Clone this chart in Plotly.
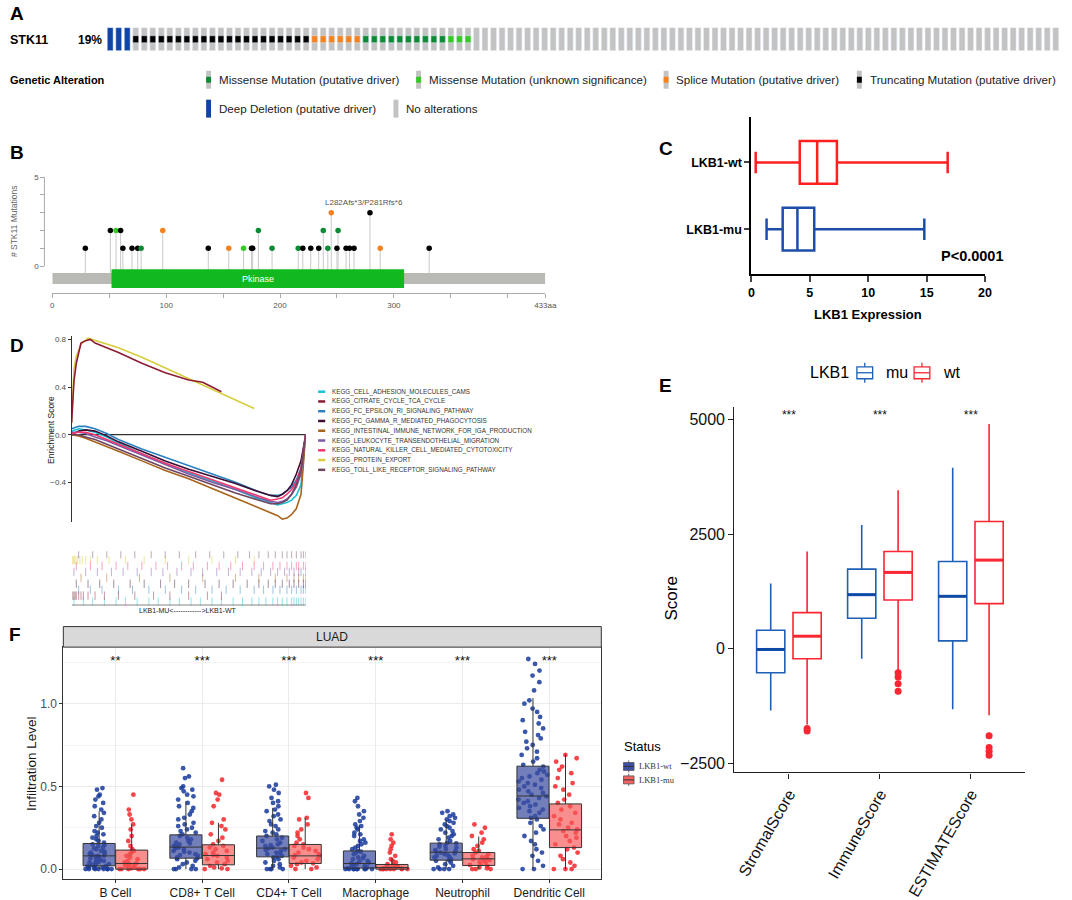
import plotly.graph_objects as go

W, H = 1072, 900
FONT = "Arial, Liberation Sans, sans-serif"


def px(x):
    return x / W


def py(y):
    return 1 - y / H


# ---------------- A: oncoprint ----------------
onco_samples = (["Deep Deletion"] * 3 + ["Truncating"] * 21 + ["Splice"] * 6
                + ["Missense driver"] * 10 + ["Missense VUS"] * 3 + ["None"] * 69)
onco_colors = {
    "Deep Deletion": "#1045a5",
    "Truncating": "#000000",
    "Splice": "#f5821f",
    "Missense driver": "#0c8a35",
    "Missense VUS": "#35c925",
}
GRAY = "#c3c3c3"

# ---------------- B: lollipop ----------------
b_pos = [29, 51, 56, 60, 62, 70, 75, 78, 97, 137, 155, 168, 175, 176, 181, 193, 216,
         220, 227, 234, 238, 242, 245, 250, 251, 258, 261, 265, 279, 288, 331]
b_cnt = [1, 2, 2, 2, 1, 1, 1, 1, 2, 1, 1, 1, 1, 1, 2, 1, 1,
         1, 1, 1, 2, 1, 3, 1, 2, 1, 1, 1, 3, 1, 1]
b_type = ["Truncating", "Truncating", "Missense VUS", "Truncating", "Truncating", "Truncating",
          "Truncating", "Missense driver", "Splice", "Truncating", "Splice", "Missense VUS",
          "Truncating", "Truncating", "Missense driver", "Missense driver", "Missense driver",
          "Truncating", "Truncating", "Truncating", "Missense driver", "Missense driver", "Splice",
          "Truncating", "Missense driver", "Truncating", "Truncating", "Truncating", "Truncating",
          "Splice", "Truncating"]
protein_len = 433
domain_start, domain_end = 52, 309

# ---------------- C: LKB1 expression ----------------
c_groups = ["LKB1-mu", "LKB1-wt"]
c_min = [1.3, 0.37]
c_q1 = [2.68, 4.14]
c_med = [3.94, 5.63]
c_q3 = [5.38, 7.32]
c_max = [14.8, 16.8]
c_colors = ["#1c4ea8", "#ff1f1f"]

# ---------------- D: GSEA ----------------
gsea_names = ["KEGG_CELL_ADHESION_MOLECULES_CAMS", "KEGG_CITRATE_CYCLE_TCA_CYCLE",
              "KEGG_FC_EPSILON_RI_SIGNALING_PATHWAY", "KEGG_FC_GAMMA_R_MEDIATED_PHAGOCYTOSIS",
              "KEGG_INTESTINAL_IMMUNE_NETWORK_FOR_IGA_PRODUCTION",
              "KEGG_LEUKOCYTE_TRANSENDOTHELIAL_MIGRATION",
              "KEGG_NATURAL_KILLER_CELL_MEDIATED_CYTOTOXICITY", "KEGG_PROTEIN_EXPORT",
              "KEGG_TOLL_LIKE_RECEPTOR_SIGNALING_PATHWAY"]
gsea_colors = ["#19c3d4", "#8c1c35", "#2a80c0", "#3d0d33", "#a8631c",
               "#7d5aa6", "#f2386e", "#d8cd3c", "#6e4660"]
neg_x = [0, 0.03, 0.06, 0.1, 0.15, 0.2, 0.3, 0.4, 0.5, 0.6, 0.7, 0.8, 0.85, 0.88, 0.9,
         0.92, 0.94, 0.96, 0.98, 1.0]
es_cell_adhesion = [0.03, 0.05, 0.04, 0.02, -0.02, -0.07, -0.16, -0.24, -0.32, -0.39, -0.46,
                    -0.54, -0.57, -0.59, -0.58, -0.57, -0.55, -0.51, -0.42, 0.0]
es_fc_epsilon = [0.05, 0.07, 0.07, 0.05, 0.01, -0.04, -0.12, -0.19, -0.26, -0.33, -0.4,
                 -0.48, -0.51, -0.51, -0.5, -0.47, -0.44, -0.38, -0.28, 0.0]
es_fc_gamma = [0.0, 0.03, 0.04, 0.03, -0.01, -0.06, -0.14, -0.22, -0.29, -0.35, -0.41,
               -0.48, -0.51, -0.52, -0.5, -0.47, -0.42, -0.33, -0.22, 0.0]
es_intestinal = [0.0, -0.01, -0.03, -0.06, -0.1, -0.14, -0.22, -0.3, -0.37, -0.45, -0.53,
                 -0.61, -0.65, -0.68, -0.71, -0.7, -0.67, -0.62, -0.5, 0.0]
es_leukocyte = [0.02, 0.02, 0.01, -0.02, -0.05, -0.09, -0.17, -0.25, -0.33, -0.4, -0.46,
                -0.53, -0.56, -0.57, -0.56, -0.54, -0.5, -0.44, -0.33, 0.0]
es_nk = [0.01, 0.02, 0.02, 0.0, -0.04, -0.08, -0.16, -0.24, -0.31, -0.38, -0.45,
         -0.52, -0.55, -0.54, -0.53, -0.5, -0.46, -0.4, -0.28, 0.0]
es_toll = [0.0, 0.0, -0.02, -0.04, -0.08, -0.12, -0.2, -0.28, -0.35, -0.42, -0.49,
           -0.55, -0.58, -0.58, -0.57, -0.55, -0.5, -0.42, -0.3, 0.0]
citrate_x = [0, 0.01, 0.02, 0.04, 0.06, 0.08, 0.1, 0.15, 0.2, 0.3, 0.4, 0.5, 0.56, 0.6, 0.64]
es_citrate = [0.1, 0.45, 0.6, 0.77, 0.79, 0.8, 0.77, 0.73, 0.69, 0.6, 0.52, 0.46, 0.44, 0.4, 0.36]
protein_x = [0, 0.01, 0.02, 0.04, 0.07, 0.1, 0.15, 0.2, 0.3, 0.4, 0.5, 0.6, 0.7, 0.78]
es_protein = [0.1, 0.55, 0.66, 0.76, 0.81, 0.79, 0.76, 0.73, 0.65, 0.56, 0.47, 0.38, 0.29, 0.22]

rug_cell_adhesion = [0.01, 0.05, 0.09, 0.14, 0.19, 0.23, 0.28, 0.33, 0.37, 0.42, 0.46, 0.51, 0.55,
                     0.6, 0.64, 0.69, 0.73, 0.77, 0.8, 0.83, 0.86, 0.88, 0.9, 0.92, 0.94, 0.95,
                     0.96, 0.97, 0.98, 0.99, 1.0]
rug_citrate = [0.005, 0.01, 0.015, 0.02, 0.03, 0.04, 0.05, 0.07, 0.1, 0.14, 0.2, 0.27, 0.35,
               0.42, 0.5, 0.58, 0.64]
rug_fc_epsilon = [0.03, 0.08, 0.13, 0.2, 0.26, 0.33, 0.4, 0.47, 0.53, 0.6, 0.66, 0.72, 0.78,
                  0.82, 0.86, 0.89, 0.92, 0.94, 0.96, 0.98, 0.99, 1.0]
rug_fc_gamma = [0.02, 0.07, 0.12, 0.18, 0.25, 0.31, 0.38, 0.44, 0.5, 0.57, 0.63, 0.69, 0.75,
                0.8, 0.84, 0.87, 0.9, 0.93, 0.95, 0.97, 0.99, 1.0]
rug_intestinal = [0.04, 0.15, 0.29, 0.42, 0.56, 0.7, 0.8, 0.87, 0.92, 0.95, 0.97, 0.99, 1.0]
rug_leukocyte = [0.01, 0.06, 0.11, 0.17, 0.22, 0.28, 0.34, 0.39, 0.45, 0.51, 0.56, 0.62, 0.67,
                 0.72, 0.77, 0.81, 0.85, 0.88, 0.91, 0.93, 0.95, 0.97, 0.98, 1.0]
rug_nk = [0.02, 0.08, 0.13, 0.19, 0.24, 0.3, 0.36, 0.41, 0.47, 0.52, 0.58, 0.63, 0.68, 0.73,
          0.78, 0.82, 0.86, 0.89, 0.92, 0.94, 0.96, 0.97, 0.99, 1.0]
rug_protein_export = [0.003, 0.008, 0.012, 0.018, 0.025, 0.035, 0.045, 0.06, 0.08, 0.11, 0.16,
                      0.23, 0.31, 0.4, 0.5, 0.6, 0.7, 0.78]
rug_toll = [0.03, 0.09, 0.15, 0.21, 0.27, 0.34, 0.4, 0.46, 0.53, 0.59, 0.65, 0.71, 0.76, 0.8,
            0.84, 0.87, 0.9, 0.92, 0.94, 0.96, 0.98, 0.99, 1.0]

# ---------------- E: ESTIMATE scores ----------------
e_cats = ["StromalScore", "ImmuneScore", "ESTIMATEScore"]
e_mu_low = [-1348, -217, -1319]
e_mu_q1 = [-522, 667, 174]
e_mu_med = [-14, 1181, 1145]
e_mu_q3 = [406, 1739, 1906]
e_mu_high = [1427, 2703, 3949]
e_wt_low = [-1650, -471, -1449]
e_wt_q1 = [-217, 1065, 985]
e_wt_med = [275, 1667, 1935]
e_wt_q3 = [790, 2124, 2776]
e_wt_high = [2124, 3457, 4906]
e_wt_out_cat = [0, 0, 1, 1, 1, 1, 2, 2, 2, 2]
e_wt_out_val = [-1740, -1790, -522, -616, -761, -928, -1898, -2152, -2232, -2319]
e_signif = ["***", "***", "***"]

# ---------------- F: immune infiltration ----------------
f_cats = ["B Cell", "CD8+ T Cell", "CD4+ T Cell", "Macrophage", "Neutrophil", "Dendritic Cell"]
f_signif = ["**", "***", "***", "***", "***", "***"]
f_wt_low = [0, 0, 0, 0, 0, 0]
f_wt_q1 = [0.02, 0.066, 0.074, 0.006, 0.054, 0.307]
f_wt_med = [0.08, 0.133, 0.127, 0.034, 0.102, 0.442]
f_wt_q3 = [0.155, 0.207, 0.2, 0.11, 0.157, 0.622]
f_wt_high = [0.35, 0.41, 0.37, 0.267, 0.3, 1.034]
f_mu_low = [0, 0, 0, 0, 0, 0]
f_mu_q1 = [0.0, 0.026, 0.034, 0.0, 0.022, 0.13]
f_mu_med = [0.034, 0.082, 0.08, 0.01, 0.062, 0.237]
f_mu_q3 = [0.115, 0.147, 0.149, 0.028, 0.1, 0.394]
f_mu_high = [0.27, 0.28, 0.31, 0.066, 0.197, 0.693]

bcell_wt = [0, 0, 0, 0, 0, 0, 0, 0, 0.005, 0.01, 0.01, 0.015, 0.02, 0.02, 0.025, 0.03, 0.035,
            0.04, 0.04, 0.045, 0.05, 0.055, 0.06, 0.065, 0.07, 0.075, 0.08, 0.08, 0.085, 0.09,
            0.095, 0.1, 0.105, 0.11, 0.12, 0.125, 0.13, 0.14, 0.145, 0.15, 0.16, 0.17, 0.18,
            0.19, 0.2, 0.21, 0.22, 0.23, 0.25, 0.26, 0.28, 0.3, 0.32, 0.34, 0.36, 0.38, 0.4,
            0.42, 0.44, 0.45, 0.48, 0.49]
bcell_mu = [0, 0, 0, 0, 0, 0, 0.005, 0.01, 0.015, 0.02, 0.025, 0.03, 0.035, 0.04, 0.05, 0.06,
            0.07, 0.08, 0.09, 0.1, 0.11, 0.12, 0.14, 0.17, 0.2, 0.24, 0.27, 0.3, 0.33, 0.36, 0.45]
cd8_wt = [0, 0, 0, 0, 0.01, 0.02, 0.03, 0.04, 0.05, 0.06, 0.065, 0.07, 0.08, 0.085, 0.09, 0.1,
          0.105, 0.11, 0.12, 0.125, 0.13, 0.135, 0.14, 0.15, 0.155, 0.16, 0.17, 0.18, 0.19, 0.2,
          0.21, 0.22, 0.23, 0.24, 0.25, 0.26, 0.27, 0.28, 0.3, 0.31, 0.33, 0.35, 0.37, 0.38, 0.4,
          0.42, 0.44, 0.45, 0.47, 0.48, 0.49, 0.5, 0.55, 0.56, 0.61]
cd8_mu = [0, 0, 0.005, 0.01, 0.02, 0.03, 0.04, 0.05, 0.06, 0.07, 0.08, 0.085, 0.09, 0.1, 0.11,
          0.12, 0.13, 0.14, 0.15, 0.17, 0.19, 0.21, 0.24, 0.26, 0.28, 0.3, 0.38, 0.42, 0.45,
          0.46, 0.54]
cd4_wt = [0, 0, 0, 0, 0.01, 0.02, 0.03, 0.04, 0.05, 0.06, 0.07, 0.075, 0.08, 0.09, 0.095, 0.1,
          0.11, 0.115, 0.12, 0.125, 0.13, 0.14, 0.145, 0.15, 0.16, 0.17, 0.18, 0.19, 0.2, 0.21,
          0.22, 0.23, 0.24, 0.26, 0.27, 0.29, 0.3, 0.32, 0.33, 0.35, 0.36, 0.38, 0.4, 0.41,
          0.43, 0.46, 0.48, 0.5, 0.51]
cd4_mu = [0, 0, 0.01, 0.02, 0.03, 0.035, 0.04, 0.05, 0.06, 0.07, 0.08, 0.085, 0.09, 0.1, 0.11,
          0.12, 0.13, 0.14, 0.15, 0.16, 0.18, 0.2, 0.22, 0.24, 0.27, 0.3, 0.31, 0.43, 0.46]
mac_wt = [0, 0, 0, 0, 0, 0, 0, 0, 0, 0.005, 0.01, 0.015, 0.02, 0.025, 0.03, 0.035, 0.04, 0.045,
          0.05, 0.06, 0.065, 0.07, 0.08, 0.09, 0.1, 0.105, 0.11, 0.12, 0.13, 0.14, 0.15, 0.16,
          0.17, 0.18, 0.2, 0.21, 0.22, 0.24, 0.25, 0.26, 0.27, 0.29, 0.31, 0.33, 0.35, 0.38,
          0.41, 0.43]
mac_mu = [0, 0, 0, 0, 0, 0, 0, 0, 0.002, 0.005, 0.008, 0.01, 0.012, 0.015, 0.02, 0.025, 0.03,
          0.04, 0.05, 0.06, 0.08, 0.1, 0.12, 0.14, 0.16, 0.18, 0.21]
neut_wt = [0, 0, 0, 0, 0.01, 0.02, 0.03, 0.04, 0.05, 0.055, 0.06, 0.07, 0.075, 0.08, 0.085,
           0.09, 0.095, 0.1, 0.105, 0.11, 0.115, 0.12, 0.13, 0.135, 0.14, 0.15, 0.155, 0.16,
           0.17, 0.18, 0.19, 0.2, 0.21, 0.22, 0.23, 0.24, 0.25, 0.26, 0.27, 0.28, 0.29, 0.3,
           0.31, 0.32, 0.33, 0.34, 0.35]
neut_mu = [0, 0, 0, 0.005, 0.01, 0.02, 0.025, 0.03, 0.04, 0.045, 0.05, 0.055, 0.06, 0.065, 0.07,
           0.075, 0.08, 0.09, 0.1, 0.11, 0.12, 0.14, 0.16, 0.18, 0.2, 0.22, 0.25, 0.27]
dc_wt = [0, 0, 0.02, 0.05, 0.08, 0.1, 0.12, 0.15, 0.17, 0.2, 0.22, 0.24, 0.26, 0.28, 0.3, 0.31,
         0.32, 0.34, 0.35, 0.36, 0.37, 0.38, 0.39, 0.4, 0.41, 0.42, 0.43, 0.44, 0.45, 0.46, 0.47,
         0.48, 0.49, 0.5, 0.51, 0.52, 0.53, 0.54, 0.55, 0.56, 0.57, 0.58, 0.59, 0.6, 0.62, 0.63,
         0.65, 0.67, 0.69, 0.71, 0.73, 0.75, 0.77, 0.79, 0.81, 0.83, 0.85, 0.88, 0.9, 0.92, 0.95,
         0.97, 1.0, 1.02, 1.08, 1.13, 1.17, 1.2, 1.24, 1.27]
dc_mu = [0, 0, 0, 0.02, 0.04, 0.06, 0.08, 0.1, 0.12, 0.13, 0.15, 0.17, 0.19, 0.2, 0.22, 0.23,
         0.24, 0.25, 0.27, 0.28, 0.3, 0.32, 0.34, 0.36, 0.38, 0.4, 0.42, 0.45, 0.48, 0.5, 0.52,
         0.55, 0.58, 0.6, 0.62, 0.65, 0.67, 0.69]

fig = go.Figure()
shapes, annos = [], []


def label(x, y, text, size=11, color="#000", bold=False, anchor="left", family=FONT, angle=0):
    annos.append(dict(xref="paper", yref="paper", x=px(x), y=py(y), text=text, showarrow=False,
                      xanchor=anchor, yanchor="middle", textangle=angle,
                      font=dict(size=size, color=color, family=family,
                                weight="bold" if bold else "normal")))


def rect(x0, y0, x1, y1, fill, line="rgba(0,0,0,0)", lw=0):
    shapes.append(dict(type="rect", xref="paper", yref="paper", x0=px(x0), x1=px(x1),
                       y0=py(y0), y1=py(y1), fillcolor=fill, line=dict(color=line, width=lw)))


def seg(x0, y0, x1, y1, color, lw=1):
    shapes.append(dict(type="line", xref="paper", yref="paper", x0=px(x0), x1=px(x1),
                       y0=py(y0), y1=py(y1), line=dict(color=color, width=lw)))


# ---- A
gray_x = [i for i, a in enumerate(onco_samples) if a != "Deep Deletion"]
deep_x = [i for i, a in enumerate(onco_samples) if a == "Deep Deletion"]
mut_x = [i for i, a in enumerate(onco_samples) if a not in ("Deep Deletion", "None")]
fig.add_trace(go.Bar(x=gray_x, y=[1] * len(gray_x), width=0.69, marker_color=GRAY,
                     xaxis="x", yaxis="y"))
fig.add_trace(go.Bar(x=deep_x, y=[1] * len(deep_x), width=0.69,
                     marker_color=onco_colors["Deep Deletion"], xaxis="x", yaxis="y"))
fig.add_trace(go.Bar(x=mut_x, y=[0.3] * len(mut_x), base=0.35, width=0.69,
                     marker_color=[onco_colors[onco_samples[i]] for i in mut_x],
                     xaxis="x", yaxis="y"))

label(5, 13, "A", 19, bold=True)
label(5, 39, "STK11", 12.5, bold=True)
label(74, 39, "19%", 12, bold=True)
label(5, 79, "Genetic Alteration", 11, bold=True)
leg_a = [(206, 79, "Missense driver", "Missense Mutation (putative driver)"),
         (419, 79, "Missense VUS", "Missense Mutation (unknown significance)"),
         (670, 79, "Splice", "Splice Mutation (putative driver)"),
         (866, 79, "Truncating", "Truncating Mutation (putative driver)"),
         (206, 108, "Deep Deletion", "Deep Deletion (putative driver)"),
         (396, 108, "None", "No alterations")]
for x, y, key, txt in leg_a:
    if key == "Deep Deletion":
        rect(x, y - 9, x + 5, y + 9, onco_colors[key])
    else:
        rect(x, y - 9, x + 5, y + 9, GRAY)
        if key != "None":
            rect(x, y - 3, x + 5, y + 3, onco_colors[key])
    label(x + 11, y, txt, 11.6, color="#222")

# ---- B
stem_x, stem_y = [], []
for p, c in zip(b_pos, b_cnt):
    stem_x += [p, p, None]
    stem_y += [-0.39, c, None]
fig.add_trace(go.Scatter(x=stem_x, y=stem_y, mode="lines", line=dict(color="#c9c9c9", width=1),
                         xaxis="x2", yaxis="y2"))
fig.add_trace(go.Scatter(x=b_pos, y=b_cnt, mode="markers",
                         marker=dict(size=5.5, color=[onco_colors[t] for t in b_type]),
                         xaxis="x2", yaxis="y2"))
shapes.append(dict(type="rect", xref="x2", yref="y2", x0=0, x1=protein_len, y0=-1.01, y1=-0.39,
                   fillcolor="#babab5", line=dict(width=0), layer="below"))
shapes.append(dict(type="rect", xref="x2", yref="y2", x0=domain_start, x1=domain_end,
                   y0=-1.23, y1=-0.17, fillcolor="#12b81f", line=dict(width=0)))
annos.append(dict(xref="x2", yref="y2", x=(domain_start + domain_end) / 2, y=-0.7, text="Pkinase",
                  showarrow=False, font=dict(size=9, color="white", family=FONT)))
annos.append(dict(xref="x2", yref="y2", x=274, y=3.55, text="L282Afs*3/P281Rfs*6",
                  showarrow=False, font=dict(size=8, color="#555", family=FONT)))
shapes.append(dict(type="line", xref="paper", yref="y2", x0=px(42), x1=px(42), y0=0, y1=5,
                   line=dict(color="#aaa", width=1)))
label(5, 152, "B", 19, bold=True)
label(11, 221, "# STK11 Mutations", 8.5, color="#666", anchor="center", angle=-90)

# ---- C
for i, g in enumerate(c_groups):
    fig.add_trace(go.Box(y=[i], q1=[c_q1[i]], median=[c_med[i]], q3=[c_q3[i]],
                         lowerfence=[c_min[i]], upperfence=[c_max[i]], orientation="h",
                         width=0.64, whiskerwidth=0.5, fillcolor="white",
                         line=dict(color=c_colors[i], width=2.5), boxpoints=False,
                         xaxis="x3", yaxis="y3"))
label(663, 148, "C", 19, bold=True)
label(1017, 256, "P&lt;0.0001", 14.5, bold=True, anchor="right")
label(877, 315, "LKB1 Expression", 13, bold=True, anchor="center")

# ---- D
neg_curves = [(0, es_cell_adhesion), (2, es_fc_epsilon), (3, es_fc_gamma), (4, es_intestinal),
              (5, es_leukocyte), (6, es_nk), (8, es_toll)]
fig.add_trace(go.Scatter(x=[0, 1], y=[0, 0], mode="lines", line=dict(color="black", width=1),
                         xaxis="x4", yaxis="y4"))
for k, es in neg_curves:
    fig.add_trace(go.Scatter(x=neg_x, y=es, mode="lines",
                             line=dict(color=gsea_colors[k], width=1.6), xaxis="x4", yaxis="y4"))
fig.add_trace(go.Scatter(x=protein_x, y=es_protein, mode="lines",
                         line=dict(color=gsea_colors[7], width=1.6), xaxis="x4", yaxis="y4"))
fig.add_trace(go.Scatter(x=citrate_x, y=es_citrate, mode="lines",
                         line=dict(color=gsea_colors[1], width=1.6), xaxis="x4", yaxis="y4"))

rugs = [rug_cell_adhesion, rug_citrate, rug_fc_epsilon, rug_fc_gamma, rug_intestinal,
        rug_leukocyte, rug_nk, rug_protein_export, rug_toll]
for k, r in enumerate(rugs):
    fig.add_trace(go.Scatter(x=r, y=[k + 0.5] * len(r), mode="markers",
                             marker=dict(symbol="line-ns", size=6, opacity=0.45,
                                         line=dict(color=gsea_colors[k], width=1)),
                             xaxis="x5", yaxis="y5"))
fig.add_trace(go.Scatter(x=[0, 1], y=[-0.1, -0.1], mode="lines",
                         line=dict(color="#444", width=1), xaxis="x5", yaxis="y5"))
label(188, 612, "LKB1-MU&lt;------------&gt;LKB1-WT", 7, color="#222", anchor="center")
label(5, 346, "D", 19, bold=True)
label(48, 430, "Enrichment Score", 8.5, color="#222", anchor="center", angle=-90)
for k, name in enumerate(gsea_names):
    yy = 392 + k * 9.8
    seg(319.6, yy, 326.8, yy, gsea_colors[k], 2.5)
    label(332, yy, name, 6.3, color="#333")

# ---- E
e_mu_x = [i + 1 - 0.2 for i in range(3)]
e_wt_x = [i + 1 + 0.2 for i in range(3)]
E_BLUE, E_RED = "#1d60b6", "#fa2632"
fig.add_trace(go.Box(x=e_mu_x, q1=e_mu_q1, median=e_mu_med, q3=e_mu_q3, lowerfence=e_mu_low,
                     upperfence=e_mu_high, width=0.31, whiskerwidth=0, fillcolor="white",
                     line=dict(color=E_BLUE, width=1.6), boxpoints=False,
                     xaxis="x6", yaxis="y6"))
fig.add_trace(go.Box(x=e_wt_x, q1=e_wt_q1, median=e_wt_med, q3=e_wt_q3, lowerfence=e_wt_low,
                     upperfence=e_wt_high, width=0.31, whiskerwidth=0, fillcolor="white",
                     line=dict(color=E_RED, width=1.6), boxpoints=False,
                     xaxis="x6", yaxis="y6"))
for xs, meds, col in [(e_mu_x, e_mu_med, "#0c4aa6"), (e_wt_x, e_wt_med, E_RED)]:
    mx, my = [], []
    for x, m in zip(xs, meds):
        mx += [x - 0.155, x + 0.155, None]
        my += [m, m, None]
    fig.add_trace(go.Scatter(x=mx, y=my, mode="lines", line=dict(color=col, width=3),
                             xaxis="x6", yaxis="y6"))
fig.add_trace(go.Scatter(x=[e_wt_x[c] for c in e_wt_out_cat], y=e_wt_out_val, mode="markers",
                         marker=dict(color=E_RED, size=7), xaxis="x6", yaxis="y6"))
fig.add_trace(go.Scatter(x=[1, 2, 3], y=[5072] * 3, text=e_signif, mode="text",
                         textfont=dict(size=12, color="#111", family=FONT),
                         cliponaxis=False, xaxis="x6", yaxis="y6"))
label(663, 386, "E", 19, bold=True)
label(677, 600, "Score", 17, anchor="center", angle=-90)
label(816, 373, "LKB1", 16)
for x0, col, txt in [(866, E_BLUE, "mu"), (924, E_RED, "wt")]:
    seg(x0 + 8, 363, x0 + 8, 383, col, 1.3)
    rect(x0, 367, x0 + 16, 379, "white", col, 1.3)
    seg(x0, 373, x0 + 16, 373, col, 1.3)
    label(x0 + 27, 373, txt, 16)

# ---- F
f_wt_x = [i + 1 - 0.1875 for i in range(6)]
f_mu_x = [i + 1 + 0.1875 for i in range(6)]
wt_points = [bcell_wt, cd8_wt, cd4_wt, mac_wt, neut_wt, dc_wt]
mu_points = [bcell_mu, cd8_mu, cd4_mu, mac_mu, neut_mu, dc_mu]
for xs, pts, col in [(f_wt_x, wt_points, "#17399b"), (f_mu_x, mu_points, "#f2262b")]:
    allx, ally = [], []
    for x, p in zip(xs, pts):
        allx += [x] * len(p)
        ally += p
    fig.add_trace(go.Box(x=allx, y=ally, boxpoints="all", jitter=1, pointpos=0, width=0.37,
                         fillcolor="rgba(0,0,0,0)", line=dict(color="rgba(0,0,0,0)"),
                         marker=dict(color=col, size=4.8, opacity=0.85),
                         xaxis="x7", yaxis="y7"))
fig.add_trace(go.Box(x=f_wt_x, q1=f_wt_q1, median=f_wt_med, q3=f_wt_q3, lowerfence=f_wt_low,
                     upperfence=f_wt_high, width=0.37, whiskerwidth=0,
                     fillcolor="rgba(60,78,160,0.72)", line=dict(color="#333", width=1),
                     boxpoints=False, xaxis="x7", yaxis="y7"))
fig.add_trace(go.Box(x=f_mu_x, q1=f_mu_q1, median=f_mu_med, q3=f_mu_q3, lowerfence=f_mu_low,
                     upperfence=f_mu_high, width=0.37, whiskerwidth=0,
                     fillcolor="rgba(246,88,88,0.68)", line=dict(color="#333", width=1),
                     boxpoints=False, xaxis="x7", yaxis="y7"))
fig.add_trace(go.Scatter(x=[1, 2, 3, 4, 5, 6], y=[1.253] * 6, text=f_signif, mode="text",
                         textfont=dict(size=13, color="#111", family=FONT),
                         xaxis="x7", yaxis="y7"))
rect(61.2, 627.7, 606.8, 648.3, "#d9d9d9", "#333", 1)
label(334, 638, "LUAD", 12, color="#1a1a1a", anchor="center")
label(4, 636, "F", 19, bold=True)
label(29, 765, "Infiltration Level", 13.5, color="#111", anchor="center", angle=-90)
label(628, 748, "Status", 13)
SERIF = "Liberation Serif, Times New Roman, serif"
for yy, fill, txt in [(768, "#3f4fa3", "LKB1-wt"), (781.5, "#f06464", "LKB1-mu")]:
    seg(634.6, yy - 6, 634.6, yy + 6, "#666", 1)
    rect(629.3, yy - 4, 640, yy + 4, fill, "#555", 0.8)
    seg(629.3, yy, 640, yy, "#333", 1)
    label(643.3, yy, txt, 8.5, color="#333", family=SERIF)

fig.update_layout(
    width=W, height=H, margin=dict(l=0, r=0, t=0, b=0),
    paper_bgcolor="white", plot_bgcolor="rgba(0,0,0,0)",
    showlegend=False, hovermode=False, barmode="overlay",
    font=dict(family=FONT, color="#000"),
    shapes=shapes, annotations=annos,
    # A
    xaxis=dict(domain=[px(104.4), 1], range=[-0.5, 111.5], visible=False, anchor="y"),
    yaxis=dict(domain=[py(50), py(26.7)], range=[0, 1], visible=False, anchor="x"),
    # B
    xaxis2=dict(domain=[px(50), px(550)], range=[0, protein_len], anchor="y2",
                showline=True, linecolor="#aaa", ticks="outside", ticklen=4, tickcolor="#aaa",
                tickvals=[0, 50, 100, 150, 200, 250, 300, 350, 400, 433],
                ticktext=["0", "", "100", "", "200", "", "300", "", "", "433aa"],
                tickfont=dict(size=8, color="#555"), showgrid=False, zeroline=False),
    yaxis2=dict(domain=[py(293), py(171.3)], range=[-1.51, 5.3], anchor="free",
                position=px(42), showline=False, ticks="outside", ticklen=4, tickcolor="#aaa",
                tickvals=[0, 1, 2, 3, 4, 5], ticktext=["0", "", "", "", "", "5"],
                tickfont=dict(size=8, color="#555"), showgrid=False, zeroline=False),
    # C
    xaxis3=dict(domain=[px(759), px(996)], range=[0, 20], anchor="y3", showline=True,
                linecolor="black", linewidth=2, ticks="outside", ticklen=6, tickwidth=2,
                tickvals=[0, 5, 10, 15, 20], tickfont=dict(size=12.5, weight="bold"),
                showgrid=False, zeroline=False),
    yaxis3=dict(domain=[py(274), py(116)], range=[-0.672, 1.687], anchor="x3", showline=True,
                linecolor="black", linewidth=2, ticks="outside", ticklen=5, tickwidth=2,
                tickvals=[0, 1], ticktext=c_groups, tickfont=dict(size=12.5, weight="bold"),
                showgrid=False, zeroline=False),
    # D
    xaxis4=dict(domain=[px(69.6), px(307)], range=[0, 1], visible=False, anchor="y4"),
    yaxis4=dict(domain=[py(522.7), py(336)], range=[-0.733, 0.83], anchor="x4", showline=True,
                linecolor="#333", linewidth=1, ticks="outside", ticklen=3, tickcolor="#333",
                tickvals=[-0.4, 0, 0.4, 0.8], ticktext=["\u22120.4", "0.0", "0.4", "0.8"],
                tickfont=dict(size=8, color="#4d4d4d"), showgrid=False, zeroline=False),
    xaxis5=dict(domain=[px(69.6), px(307)], range=[0, 1], visible=False, anchor="y5"),
    yaxis5=dict(domain=[py(606.5), py(552)], range=[-0.15, 9], visible=False, anchor="x5"),
    # E
    xaxis6=dict(domain=[px(741.7), px(1037)], range=[0.4, 3.6], anchor="y6", showline=True,
                linecolor="#222", linewidth=1.3, ticks="outside", ticklen=5, tickcolor="#222",
                tickvals=[1, 2, 3], ticktext=e_cats, tickangle=-60,
                tickfont=dict(size=16, color="#111"), showgrid=False, zeroline=False),
    yaxis6=dict(domain=[py(774), py(407.7)], range=[-2696, 5267], anchor="x6", showline=True,
                linecolor="#222", linewidth=1.3, ticks="outside", ticklen=5, tickcolor="#222",
                tickvals=[-2500, 0, 2500, 5000], tickfont=dict(size=16, color="#111"),
                showgrid=False, zeroline=False),
    # F
    xaxis7=dict(domain=[px(61.2), px(606.8)], range=[0.4, 6.6], anchor="y7", showline=True,
                mirror=True, linecolor="#333", linewidth=1, ticks="outside", ticklen=3,
                tickcolor="#333", tickvals=[1, 2, 3, 4, 5, 6], ticktext=f_cats,
                tickfont=dict(size=12, color="#1a1a1a"), showgrid=True, gridcolor="#ebebeb",
                zeroline=False),
    yaxis7=dict(domain=[py(881), py(648.3)], range=[-0.0602, 1.3416], anchor="x7", showline=True,
                mirror=True, linecolor="#333", linewidth=1, ticks="outside", ticklen=3,
                tickcolor="#333", tickvals=[0, 0.5, 1.0], ticktext=["0.0", "0.5", "1.0"],
                tickfont=dict(size=12, color="#4d4d4d"), showgrid=True, gridcolor="#ebebeb",
                minor=dict(tickvals=[0.25, 0.75, 1.25], showgrid=True, gridcolor="#f4f4f4"),
                zeroline=False),
)

# the default page adds an 8px body margin; drop it so the figure sits at the page origin
fig.write_html("out.html", config={"displayModeBar": False},
               post_script="document.body.style.margin='0';")
